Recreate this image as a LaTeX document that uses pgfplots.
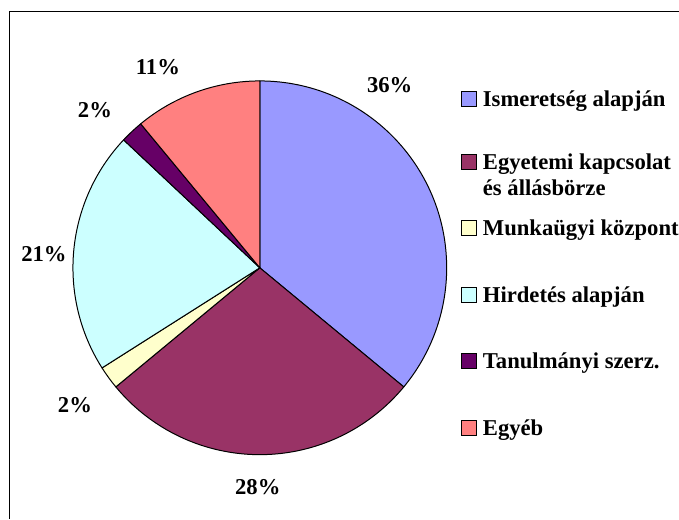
\documentclass[border=0pt]{standalone}
\usepackage{pgfplots}
\pgfplotsset{compat=1.18}
\usepackage{pgfplotstable}
\usepackage{fontspec}
\setmainfont{Liberation Serif}
\definecolor{cIsm}{HTML}{9999FF}
\definecolor{cEgy}{HTML}{993366}
\definecolor{cMun}{HTML}{FFFFCC}
\definecolor{cHir}{HTML}{CCFFFF}
\definecolor{cTan}{HTML}{660066}
\definecolor{cEgb}{HTML}{FF8080}

\pgfplotstableread[col sep=comma]{
value,color
36,cIsm
28,cEgy
2,cMun
21,cHir
2,cTan
11,cEgb
}\piedata

\newcommand\lblfont{\fontsize{17}{19.5}\selectfont\bfseries}

\begin{document}
\begin{tikzpicture}
\begin{axis}[width=509.25pt, height=389.25pt, scale only axis,
  xmin=0, xmax=679, ymin=0, ymax=519, hide axis, clip=false]
\path (axis cs:0,0) rectangle (axis cs:679,519);
\draw[line width=0.75pt] (axis cs:10,0) -- (axis cs:10,507) -- (axis cs:679,507);
\pgfplotsextra{
  \xdef\curang{90}
  \foreach \i in {0,...,5}{
    \pgfplotstablegetelem{\i}{value}\of\piedata \let\v\pgfplotsretval
    \pgfplotstablegetelem{\i}{color}\of\piedata \let\c\pgfplotsretval
    \pgfmathsetmacro\endang{\curang-3.6*\v}
    \filldraw[fill=\c, draw=black, line width=0.75pt, line join=round]
      (axis cs:260,251) -- ++(\curang:140.25pt)
      arc[start angle=\curang, end angle=\endang, radius=140.25pt] -- cycle;
    \xdef\curang{\endang}
  }
}
% percentage labels
\node[font=\lblfont, inner sep=0] at (axis cs:390,434) {36\%};
\node[font=\lblfont, inner sep=0] at (axis cs:258,32) {28\%};
\node[font=\lblfont, inner sep=0] at (axis cs:75,114) {2\%};
\node[font=\lblfont, inner sep=0] at (axis cs:44,265) {21\%};
\node[font=\lblfont, inner sep=0] at (axis cs:95,409) {2\%};
\node[font=\lblfont, inner sep=0] at (axis cs:158,452) {11\%};
% legend
\filldraw[fill=cIsm, draw=black, line width=0.75pt] (axis cs:462,412.5) rectangle (axis cs:477,427.5);
\node[anchor=base west, inner sep=0, font=\lblfont] at (axis cs:483,412.5) {Ismeretség alapján};
\filldraw[fill=cEgy, draw=black, line width=0.75pt] (axis cs:462,349.5) rectangle (axis cs:477,364.5);
\node[anchor=base west, inner sep=0, font=\lblfont] at (axis cs:483,349.5) {Egyetemi kapcsolat};
\node[anchor=base west, inner sep=0, font=\lblfont] at (axis cs:483,323.5) {és állásbörze};
\filldraw[fill=cMun, draw=black, line width=0.75pt] (axis cs:462,283.5) rectangle (axis cs:477,298.5);
\node[anchor=base west, inner sep=0, font=\lblfont] at (axis cs:483,283.5) {Munkaügyi központ};
\filldraw[fill=cHir, draw=black, line width=0.75pt] (axis cs:462,216.5) rectangle (axis cs:477,231.5);
\node[anchor=base west, inner sep=0, font=\lblfont] at (axis cs:483,216.5) {Hirdetés alapján};
\filldraw[fill=cTan, draw=black, line width=0.75pt] (axis cs:462,150.5) rectangle (axis cs:477,165.5);
\node[anchor=base west, inner sep=0, font=\lblfont] at (axis cs:483,150.5) {Tanulmányi szerz.};
\filldraw[fill=cEgb, draw=black, line width=0.75pt] (axis cs:462,83.5) rectangle (axis cs:477,98.5);
\node[anchor=base west, inner sep=0, font=\lblfont] at (axis cs:483,83.5) {Egyéb};
\end{axis}
\end{tikzpicture}
\end{document}
